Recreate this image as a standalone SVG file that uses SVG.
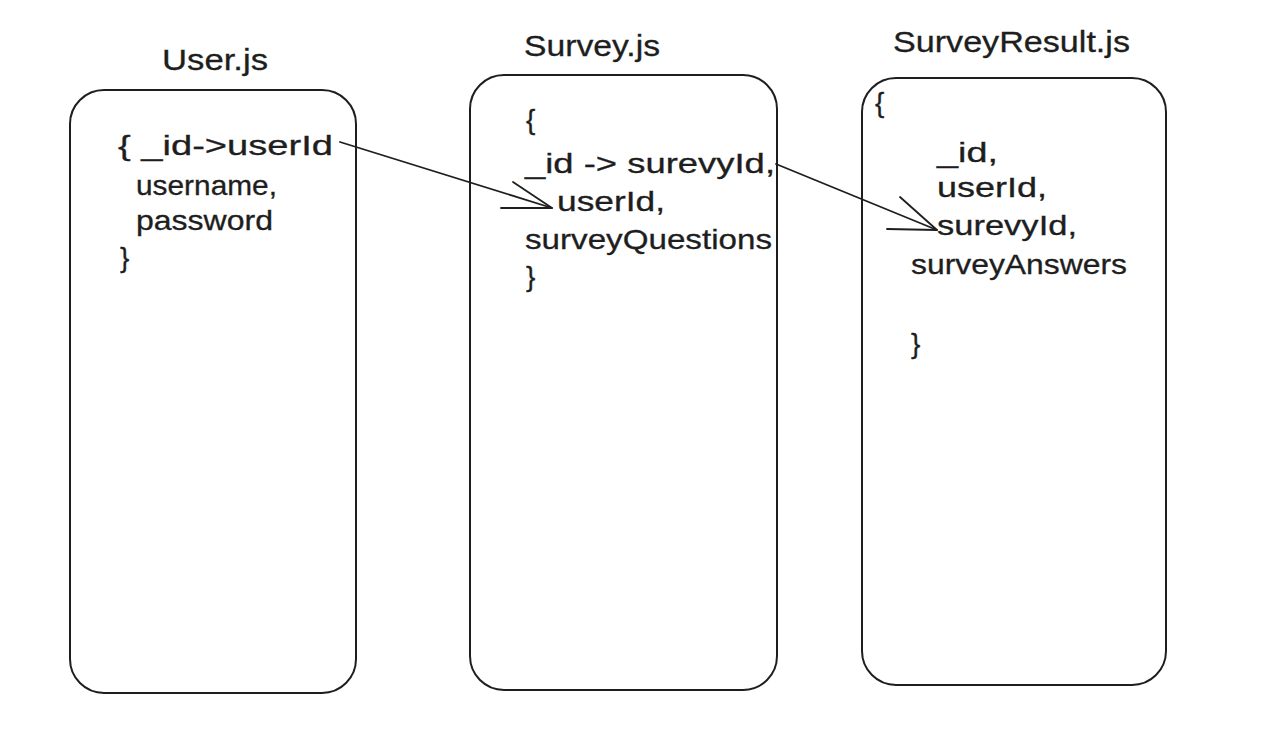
<svg xmlns="http://www.w3.org/2000/svg" width="1280" height="737" viewBox="0 0 1280 737">
<style>
.box{fill:none;stroke:#1e1e1e;stroke-width:2;stroke-linecap:round;stroke-linejoin:round}
.t{font-family:"Liberation Sans","DejaVu Sans",sans-serif;font-size:28px;fill:#1e1e1e;stroke:#1e1e1e;stroke-width:0.3}
.ttl{font-family:"Liberation Sans","DejaVu Sans",sans-serif;font-size:29px;fill:#1e1e1e;stroke:#1e1e1e;stroke-width:0.3}
.c{fill:none;stroke:#1e1e1e;stroke-width:1.8;stroke-linecap:round;stroke-linejoin:round}
</style>
<rect width="1280" height="737" fill="#ffffff"/>
<g id="user">
<text class="ttl" x="162" y="70" textLength="106" lengthAdjust="spacingAndGlyphs">User.js</text>
<rect class="box" x="70" y="90" width="286" height="603" rx="34" ry="34"/>
<text class="t" x="118" y="155" textLength="215" lengthAdjust="spacingAndGlyphs">{ _id-&gt;userId</text>
<text class="t" x="136" y="195" textLength="141" lengthAdjust="spacingAndGlyphs">username,</text>
<text class="t" x="136" y="230" textLength="137" lengthAdjust="spacingAndGlyphs">password</text>
<text class="t" x="120" y="267">}</text>
</g>
<g id="survey">
<text class="ttl" x="524" y="56" textLength="136" lengthAdjust="spacingAndGlyphs">Survey.js</text>
<rect class="box" x="470" y="75" width="307" height="615" rx="34" ry="34"/>
<text class="t" x="526" y="129">{</text>
<text class="t" x="525" y="173" textLength="250" lengthAdjust="spacingAndGlyphs">_id -&gt; surevyId,</text>
<text class="t" x="557" y="211" textLength="108" lengthAdjust="spacingAndGlyphs">userId,</text>
<text class="t" x="525" y="249" textLength="247" lengthAdjust="spacingAndGlyphs">surveyQuestions</text>
<text class="t" x="526" y="286">}</text>
</g>
<g id="surveyresult">
<text class="ttl" x="893" y="52" textLength="237" lengthAdjust="spacingAndGlyphs">SurveyResult.js</text>
<rect class="box" x="862" y="78" width="304" height="607" rx="34" ry="34"/>
<text class="t" x="875" y="112">{</text>
<text class="t" x="937" y="162" textLength="61" lengthAdjust="spacingAndGlyphs">_id,</text>
<text class="t" x="937" y="197" textLength="110" lengthAdjust="spacingAndGlyphs">userId,</text>
<text class="t" x="937" y="235" textLength="140" lengthAdjust="spacingAndGlyphs">surevyId,</text>
<text class="t" x="911" y="274" textLength="216" lengthAdjust="spacingAndGlyphs">surveyAnswers</text>
<text class="t" x="911" y="353">}</text>
</g>
<g id="connectors">
<path class="c" d="M340 142 L552 208"/>
<path class="c" d="M513 182 L552 208 L501 208"/>
<path class="c" d="M776 164 L937 230"/>
<path class="c" d="M900 197 L937 230 L887 229"/>
</g>
</svg>
